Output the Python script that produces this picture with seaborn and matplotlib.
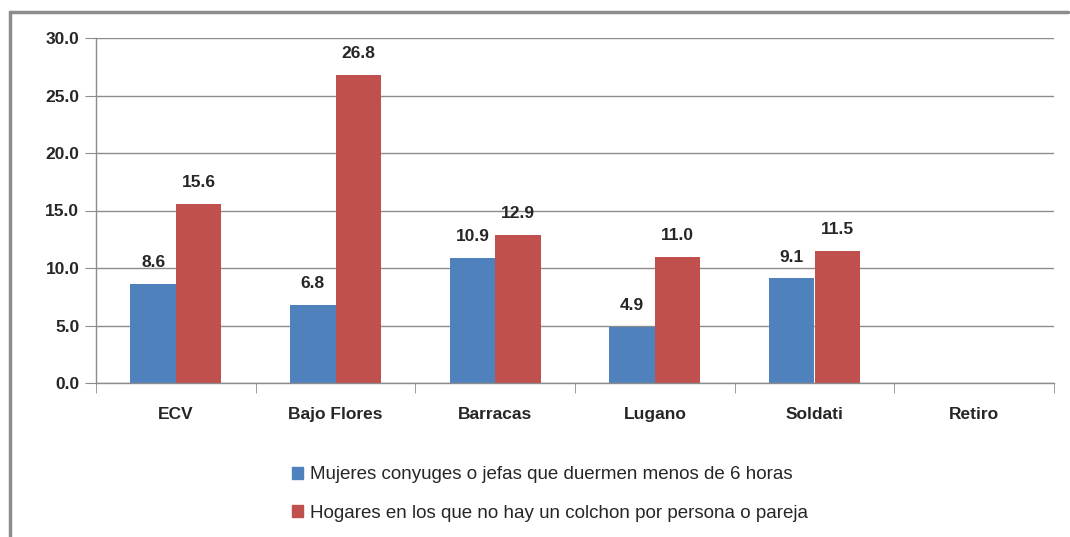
import matplotlib
matplotlib.use("Agg")
import matplotlib.pyplot as plt
import matplotlib.lines as mlines
import pandas as pd
import numpy as np
import seaborn as sns

# datos
barrios = ['ECV', 'Bajo Flores', 'Barracas', 'Lugano', 'Soldati', 'Retiro']
mujeres = [8.6, 6.8, 10.9, 4.9, 9.1, np.nan]
hogares = [15.6, 26.8, 12.9, 11.0, 11.5, np.nan]
serie1 = 'Mujeres conyuges o jefas que duermen menos de 6 horas'
serie2 = 'Hogares en los que no hay un colchon por persona o pareja'

df = pd.DataFrame({
    'barrio': barrios * 2,
    'valor': mujeres + hogares,
    'serie': [serie1] * len(barrios) + [serie2] * len(barrios),
})

sns.set_style('white')
plt.rcParams['font.family'] = ['Liberation Sans', 'DejaVu Sans']

fig = plt.figure(figsize=(10.7, 5.37), dpi=100)
ax = fig.add_axes([96 / 1070, 1 - 383 / 537, (1054 - 96) / 1070, (383 - 38) / 537])

sns.barplot(data=df, x='barrio', y='valor', hue='serie',
            palette=['#4F81BD', '#C0504D'], width=0.57, saturation=1,
            linewidth=0, ax=ax, legend=False)

ax.set_ylim(0, 30)
ax.set_yticks(np.arange(0, 30.1, 5))
ax.set_yticklabels([f'{v:.1f}' for v in np.arange(0, 30.1, 5)],
                   fontsize=12.5, fontweight='bold')
ax.set_xticks(range(len(barrios)))
ax.set_xticklabels(barrios, fontsize=12.5, fontweight='bold')
ax.set_xlabel('')
ax.set_ylabel('')
ax.set_xlim(-0.5, len(barrios) - 0.5)
ax.grid(axis='y', color='#8c8c8c', linewidth=1)
ax.set_axisbelow(True)
for s in ['top', 'right']:
    ax.spines[s].set_visible(False)
for s in ['left', 'bottom']:
    ax.spines[s].set_color('#8c8c8c')
    ax.spines[s].set_linewidth(1)
ax.tick_params(axis='y', length=8, color='#8c8c8c', pad=4, left=True)
ax.tick_params(axis='x', length=0, pad=17)
# marcas entre categorias
ax.set_xticks(np.arange(-0.5, len(barrios)), minor=True)
ax.tick_params(axis='x', which='minor', length=7, color='#8c8c8c', bottom=True)

for cont in ax.containers:
    for bar in cont:
        h = bar.get_height()
        if np.isnan(h) or h == 0:
            continue
        ax.text(bar.get_x() + bar.get_width() / 2, h + 1.2, f'{h:.1f}',
                ha='center', va='bottom', fontsize=12.5, fontweight='bold')

# leyenda
handles = [plt.Rectangle((0, 0), 1, 1, color='#4F81BD'),
           plt.Rectangle((0, 0), 1, 1, color='#C0504D')]
fig.legend(handles, [serie1, serie2], loc='center',
           bbox_to_anchor=(550 / 1070, 1 - 494 / 537), frameon=False,
           fontsize=13.5, handlelength=0.6, handleheight=0.6, handletextpad=0.4,
           labelspacing=1.15)

# borde del grafico
fig.add_artist(mlines.Line2D([10 / 1070, 10 / 1070], [0, 1 - 12 / 537],
                             color='#8c8c8c', linewidth=2.5, transform=fig.transFigure))
fig.add_artist(mlines.Line2D([10 / 1070, 1068 / 1070], [1 - 12 / 537, 1 - 12 / 537],
                             color='#8c8c8c', linewidth=2.5, transform=fig.transFigure))

fig.savefig('out.png', dpi=100)
